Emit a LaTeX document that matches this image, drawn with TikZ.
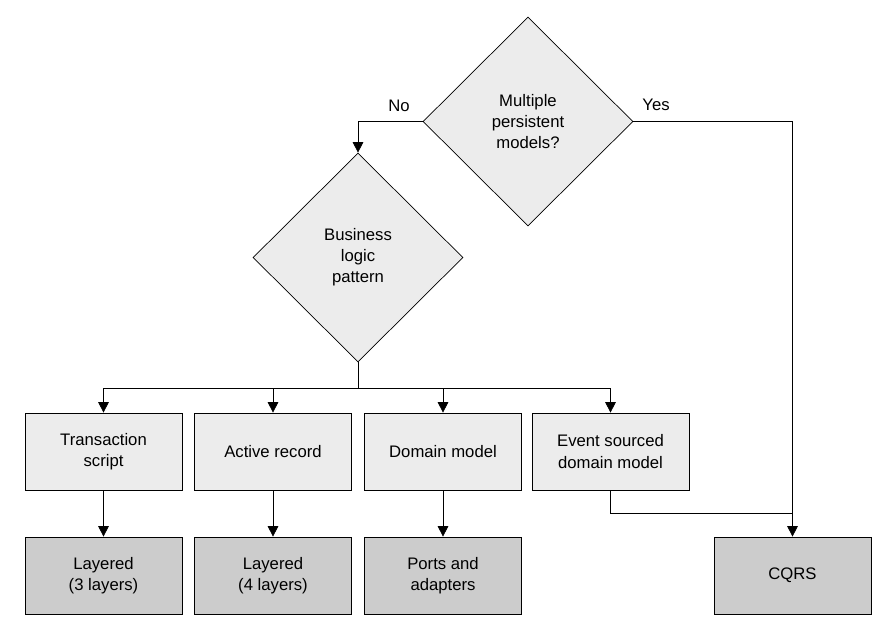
\documentclass[tikz,border=0pt]{standalone}
\usepackage{fontspec}
\setmainfont{Liberation Sans}
\usetikzlibrary{shapes.geometric,arrows.meta}
\tikzset{
  choice/.style={diamond,draw,fill=gray!15,minimum width=4.2cm,minimum height=4.18cm,inner sep=0pt,align=center},
  pattern/.style={rectangle,draw,fill=gray!15,minimum width=3.14cm,minimum height=1.54cm,align=center},
  arch/.style={pattern,fill=gray!40},
  flow/.style={-{Triangle[length=6pt,width=6pt]}},
}
\begin{document}
\begin{tikzpicture}[x=0.02cm,y=-0.02cm]\fontsize{9.5}{12}\selectfont
\useasboundingbox (0,0) rectangle (893,630);
\node[choice] (models) at (528,121.5) {Multiple\\persistent\\models?};
\node[choice] (logic) at (358,257.5) {Business\\logic\\pattern};
\node[pattern] (ts) at (103.5,451.5) {Transaction\\script};
\node[pattern] (ar) at (273,451.5) {Active record};
\node[pattern] (dm) at (443,451.5) {Domain model};
\node[pattern] (es) at (610.5,451.5) {Event sourced\\domain model};
\node[arch] (l3) at (103.5,575.5) {Layered\\(3 layers)};
\node[arch] (l4) at (273,575.5) {Layered\\(4 layers)};
\node[arch] (pa) at (443,575.5) {Ports and\\adapters};
\node[arch] (cqrs) at (792.5,575.5) {CQRS};
% decisions
\draw[flow] (models.west) -| (logic.north);
\draw[flow] (models.east) -| (cqrs.north);
\node (no) at (399,106) {No};
\node (yes) at (656,105) {Yes};
\coordinate (split) at (358,388);
\draw (logic.south) -- (split);
\foreach \b in {ts,ar,dm,es}
  \draw[flow] (split) -| (\b.north);
\foreach \a/\b in {ts/l3,ar/l4,dm/pa}
  \draw[flow] (\a) -- (\b);
\coordinate (join) at (792.5,513);
\draw (es.south) |- (join);
\end{tikzpicture}
\end{document}
